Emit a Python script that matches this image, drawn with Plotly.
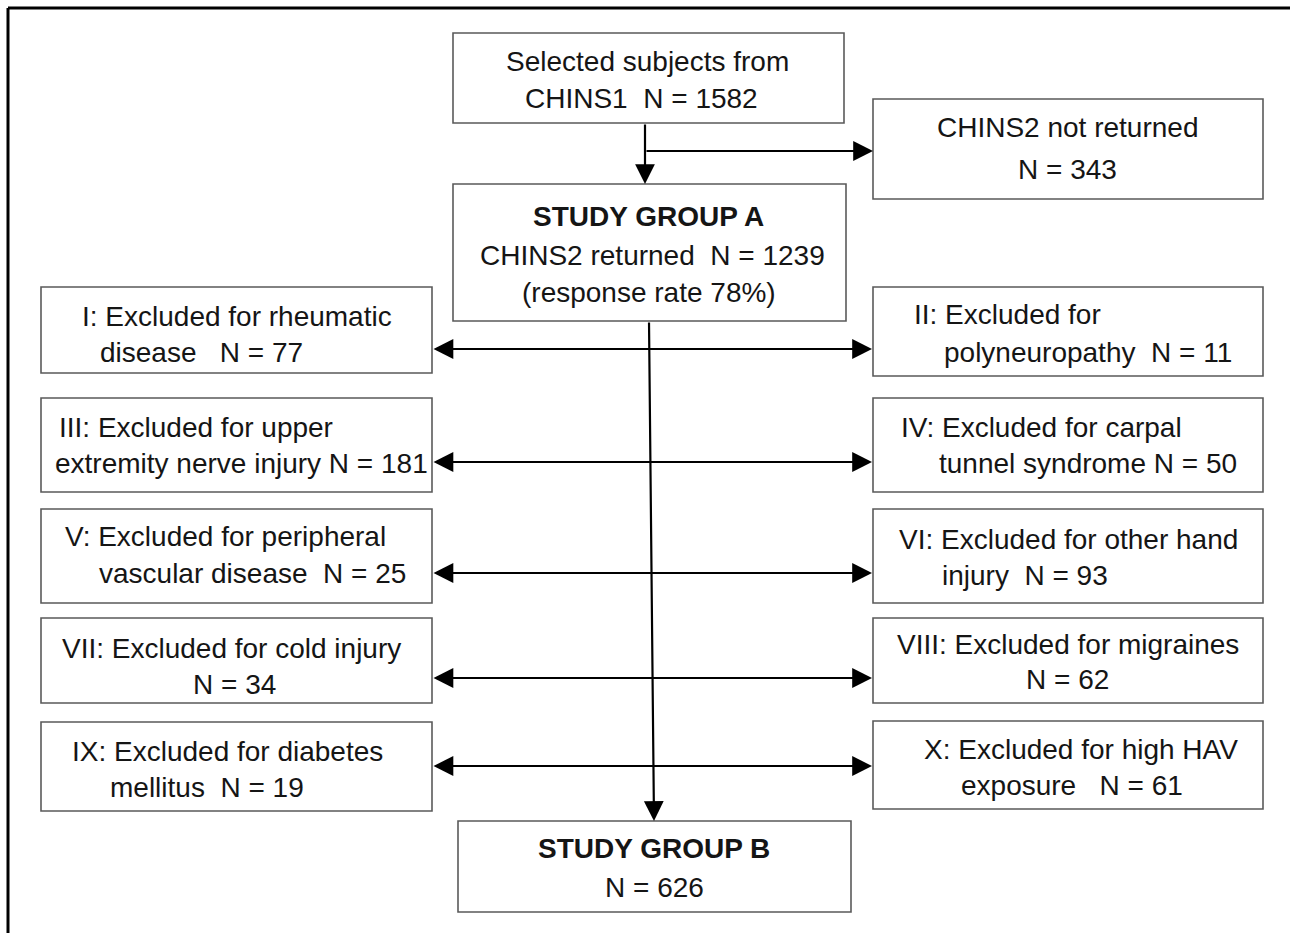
import plotly.graph_objects as go

# ---------------- data ----------------
n_selected = 1582
n_not_returned = 343
n_group_a = 1239
response_rate = 78
n_group_b = 626

roman = ["I", "II", "III", "IV", "V", "VI", "VII", "VIII", "IX", "X"]
n_excluded = [77, 11, 181, 50, 25, 93, 34, 62, 19, 61]
line1_text = [
    "I: Excluded for rheumatic",
    "II: Excluded for",
    "III: Excluded for upper",
    "IV: Excluded for carpal",
    "V: Excluded for peripheral",
    "VI: Excluded for other hand",
    "VII: Excluded for cold injury",
    "VIII: Excluded for migraines",
    "IX: Excluded for diabetes",
    "X: Excluded for high HAV",
]
line2_prefix = [
    "disease   ",
    "polyneuropathy  ",
    "extremity nerve injury ",
    "tunnel syndrome ",
    "vascular disease  ",
    "injury  ",
    "",
    "",
    "mellitus  ",
    "exposure   ",
]

# ---------------- layout geometry (pixels) ----------------
W, H = 1290, 933
FONT = "Liberation Sans, Arial, sans-serif"
FS = 28
TXT = "#151515"
BOX = "#5a5a5a"

left_col = (41, 432)
right_col = (873, 1263)
row_boxes_left = [(287, 373), (398, 492), (509, 603), (618, 703), (722, 811)]
row_boxes_right = [(287, 376), (398, 492), (509, 603), (618, 703), (721, 809)]
arrow_rows = [349, 462, 573, 678, 766]
# text placement per criterion: (mode, x1, y1, x2, y2)
text_pos = [
    ("left", 80, 316, 98, 352),
    ("left", 912, 314, 942, 352),
    ("left", 57, 427, 53, 463),
    ("left", 899, 427, 937, 463),
    ("left", 63, 536, 97, 573),
    ("left", 897, 539, 940, 575),
    ("center", 231, 648, 234, 684),
    ("center", 1068, 644, 1067, 679),
    ("left", 70, 751, 108, 787),
    ("left", 922, 749, 959, 785),
]

fig = go.Figure()
shapes = []
annotations = []


def box(x0, y0, x1, y1):
    shapes.append(dict(type="rect", xref="x", yref="y", x0=x0, y0=y0, x1=x1, y1=y1,
                       line=dict(color=BOX, width=1.6), fillcolor="white", layer="below"))


def text(x, y, s, anchor="center", bold=False):
    annotations.append(dict(x=x, y=y, xref="x", yref="y", text=("<b>%s</b>" % s if bold else s),
                            showarrow=False, xanchor=anchor, yanchor="middle",
                            font=dict(family=FONT, size=FS, color=TXT)))


def arrow(x0, y0, x1, y1, both=False):
    d = dict(x=x1, y=y1, ax=x0, ay=y0, xref="x", yref="y", axref="x", ayref="y",
             text="", showarrow=True, arrowhead=2, arrowsize=1.8, arrowwidth=2.2,
             arrowcolor="#000000", standoff=0, startstandoff=0)
    if both:
        d.update(arrowside="end+start", startarrowhead=2, startarrowsize=1.8)
    annotations.append(d)


def nbsp(s):
    return s.replace(" ", "\u00a0")


# outer frame (left and top edges)
shapes.append(dict(type="line", xref="x", yref="y", x0=8, y0=8, x1=8, y1=H,
                   line=dict(color="black", width=3)))
shapes.append(dict(type="line", xref="x", yref="y", x0=8, y0=8, x1=W, y1=8,
                   line=dict(color="black", width=3)))

# main boxes
box(453, 33, 844, 123)
text(647, 61, "Selected subjects from")
text(641, 98, nbsp("CHINS1  N = %d" % n_selected))

box(873, 99, 1263, 199)
text(1067, 127, "CHINS2 not returned")
text(1067, 169, "N = %d" % n_not_returned)

box(453, 184, 846, 321)
text(648, 216, "STUDY GROUP A", bold=True)
text(652, 255, nbsp("CHINS2 returned  N = %d" % n_group_a))
text(649, 292, "(response rate %d%%)" % response_rate)

box(458, 821, 851, 912)
text(654, 848, "STUDY GROUP B", bold=True)
text(654, 887, "N = %d" % n_group_b)

# exclusion boxes
for i in range(10):
    r = i // 2
    if i % 2 == 0:
        x0, x1 = left_col
        y0, y1 = row_boxes_left[r]
    else:
        x0, x1 = right_col
        y0, y1 = row_boxes_right[r]
    box(x0, y0, x1, y1)
    mode, tx1, ty1, tx2, ty2 = text_pos[i]
    l2 = nbsp(line2_prefix[i] + "N = %d" % n_excluded[i])
    text(tx1, ty1, nbsp(line1_text[i]), anchor=mode)
    text(tx2, ty2, l2, anchor=mode)

# arrows
arrow(645, 123, 645, 184)
arrow(645, 151, 873, 151)
arrow(649, 321, 654, 821)
for y in arrow_rows:
    arrow(432, y, 872, y, both=True)

fig.update_layout(
    width=W, height=H,
    margin=dict(l=0, r=0, t=0, b=0),
    paper_bgcolor="white", plot_bgcolor="white",
    xaxis=dict(range=[0, W], visible=False, fixedrange=True),
    yaxis=dict(range=[H, 0], visible=False, fixedrange=True),
    shapes=shapes, annotations=annotations, showlegend=False,
)

fig.write_html("out.html", config={"displayModeBar": False},
               post_script="document.body.style.margin='0';document.body.style.overflow='hidden';")
